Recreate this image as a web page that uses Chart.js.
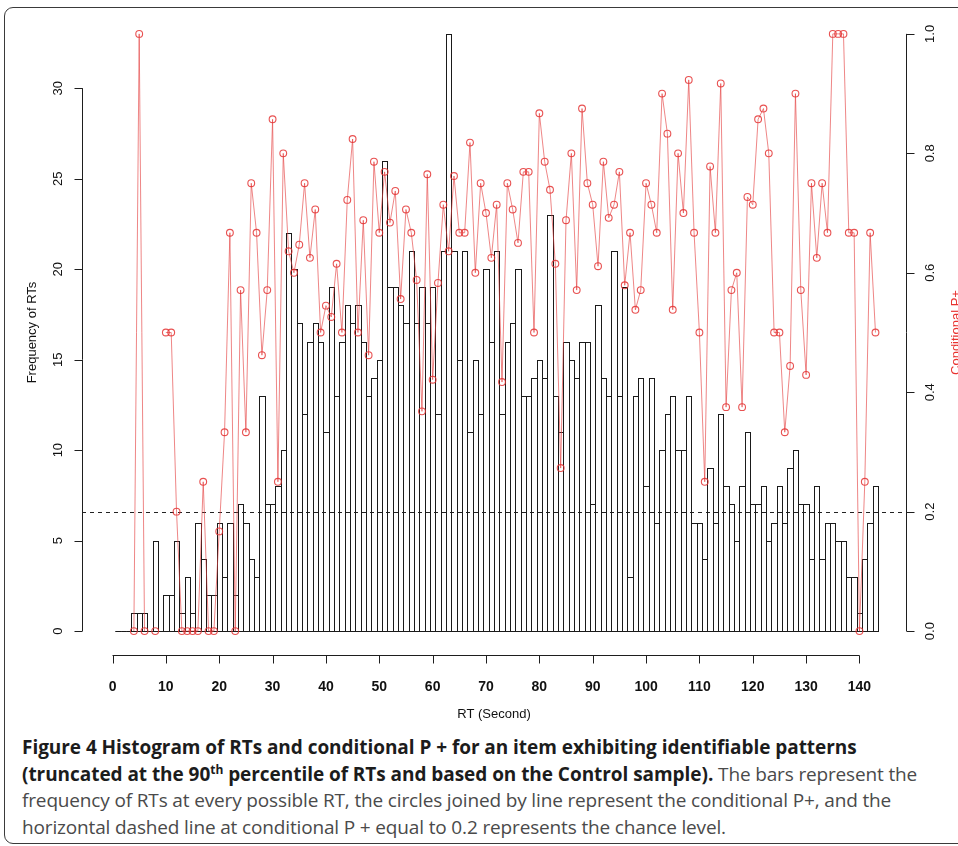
<!DOCTYPE html>
<html>
<head>
<meta charset="utf-8">
<script src="https://cdn.jsdelivr.net/npm/chart.js@4.4.1/dist/chart.umd.min.js"></script>
<style>
  html, body { margin: 0; padding: 0; background: #fff; }
  #frame {
    position: absolute; left: 4px; top: 7px; width: 1000px; height: 835px;
    border: 1.5px solid #3a3a3a; border-radius: 9px;
  }
  #wrap { position: absolute; left: 0; top: 0; width: 958px; height: 730px; }
  #caption {
    position: absolute; left: 22px; top: 734px;
    font-family: "Open Sans", sans-serif; font-size: 19px; line-height: 26.5px;
    color: #4a4a4a; white-space: nowrap; letter-spacing: -0.15px;
  }
  #caption b { color: #1c1c1c; font-weight: 700; letter-spacing: -0.05px; }
  #caption sup { font-size: 12px; line-height: 0; }
</style>
</head>
<body>
<div id="frame"></div>
<div id="wrap"><canvas id="chart" width="958" height="730"></canvas></div>
<div id="caption">
  <b>Figure 4 Histogram of RTs and conditional P + for an item exhibiting identifiable patterns</b><br>
  <b>(truncated at the 90<sup>th</sup> percentile of RTs and based on the Control sample).</b> The bars represent the<br>
  frequency of RTs at every possible RT, the circles joined by line represent the conditional P+, and the<br>
  horizontal dashed line at conditional P + equal to 0.2 represents the chance level.
</div>
<script>
// frequency of RTs, one value per second (RT = 1 .. 143)
const frequency = [
  0, 0, 0, 1, 1, 1, 0, 5, 0, 2,
  2, 5, 1, 3, 1, 6, 4, 2, 2, 6,
  3, 6, 2, 7, 6, 4, 3, 13, 7, 7,
  8, 10, 22, 20, 17, 12, 16, 17, 16, 11,
  19, 13, 16, 18, 17, 18, 16, 13, 14, 15,
  26, 19, 19, 18, 17, 21, 17, 19, 17, 19,
  12, 21, 33, 21, 15, 21, 11, 15, 12, 20,
  16, 21, 12, 16, 17, 20, 13, 13, 14, 15,
  14, 23, 13, 11, 16, 15, 14, 16, 16, 7,
  18, 14, 13, 21, 13, 19, 3, 13, 14, 8,
  14, 6, 10, 12, 13, 10, 10, 13, 6, 6,
  4, 9, 6, 12, 8, 7, 5, 8, 11, 7,
  7, 8, 5, 6, 8, 6, 9, 10, 7, 7,
  4, 8, 4, 6, 6, 5, 5, 3, 3, 1,
  4, 6, 8,
];

// conditional P+ at each RT (null where nobody answered at that RT)
const conditionalP = [
  null, null, null, 0, 1, 0, null, 0, null, 0.5,
  0.5, 0.2, 0, 0, 0, 0, 0.25, 0, 0, 0.167,
  0.333, 0.667, 0, 0.571, 0.333, 0.75, 0.667, 0.462, 0.571, 0.857,
  0.25, 0.8, 0.636, 0.6, 0.647, 0.75, 0.625, 0.706, 0.5, 0.545,
  0.526, 0.615, 0.5, 0.722, 0.824, 0.5, 0.688, 0.462, 0.786, 0.667,
  0.769, 0.684, 0.737, 0.556, 0.706, 0.667, 0.588, 0.368, 0.765, 0.421,
  0.583, 0.714, 0.636, 0.762, 0.667, 0.667, 0.818, 0.6, 0.75, 0.7,
  0.625, 0.714, 0.417, 0.75, 0.706, 0.65, 0.769, 0.769, 0.5, 0.867,
  0.786, 0.739, 0.615, 0.273, 0.688, 0.8, 0.571, 0.875, 0.75, 0.714,
  0.611, 0.786, 0.692, 0.714, 0.769, 0.579, 0.667, 0.538, 0.571, 0.75,
  0.714, 0.667, 0.9, 0.833, 0.538, 0.8, 0.7, 0.923, 0.667, 0.5,
  0.25, 0.778, 0.667, 0.917, 0.375, 0.571, 0.6, 0.375, 0.727, 0.714,
  0.857, 0.875, 0.8, 0.5, 0.5, 0.333, 0.444, 0.9, 0.571, 0.429,
  0.75, 0.625, 0.75, 0.667, 1, 1, 1, 0.667, 0.667, 0,
  0.25, 0.667, 0.5,
];

const rtSeconds = frequency.map((_, index) => index + 1);

const xTicks = [0, 10, 20, 30, 40, 50, 60, 70, 80, 90, 100, 110, 120, 130, 140];
const freqTicks = [0, 5, 10, 15, 20, 25, 30];
const pTicks = [0, 0.2, 0.4, 0.6, 0.8, 1.0];
const pTickLabels = ["0.0", "0.2", "0.4", "0.6", "0.8", "1.0"];
const chanceLevel = 0.2;

const plainFont = '"Liberation Sans", Arial, sans-serif';
const narrowFont = '"Liberation Sans Narrow", "Liberation Sans", Arial, sans-serif';
const axisColor = "#1e1e1e";

function strokeSegment(ctx, x1, y1, x2, y2) {
  ctx.beginPath();
  ctx.moveTo(x1, y1);
  ctx.lineTo(x2, y2);
  ctx.stroke();
}

// R-like axes: line only between first and last tick, tick marks, rotated y labels
const rStylePlugin = {
  id: "rStyle",
  beforeDatasetsDraw(chart) {
    const { ctx, chartArea, scales } = chart;
    const y = Math.round(scales.y1.getPixelForValue(chanceLevel)) + 0.5;
    ctx.save();
    ctx.strokeStyle = "#222";
    ctx.lineWidth = 1;
    ctx.setLineDash([4, 4]);
    strokeSegment(ctx, chartArea.left, y, chartArea.right, y);
    ctx.restore();
  },
  afterDatasetDraw(chart, args) {
    if (args.index !== 0) return;
    const ctx = chart.ctx;
    ctx.save();
    ctx.setLineDash([]);
    ctx.strokeStyle = "#1a1a1a";
    ctx.lineWidth = 1;
    args.meta.data.forEach((bar) => {
      const { x, y, base, width } = bar.getProps(["x", "y", "base", "width"], true);
      const left = Math.round(x - width / 2);
      const right = Math.round(x + width / 2);
      const top = Math.round(y);
      const bottom = Math.round(base);
      ctx.strokeRect(left + 0.5, top + 0.5, right - left, bottom - top);
    });
    ctx.restore();
  },
  afterDraw(chart) {
    const { ctx, chartArea, scales } = chart;
    const tick = 8;
    ctx.save();
    ctx.setLineDash([]);
    ctx.strokeStyle = axisColor;
    ctx.lineWidth = 1;

    const xb = Math.round(chartArea.bottom) + 0.5;
    strokeSegment(ctx, scales.x.getPixelForValue(xTicks[0]), xb,
      scales.x.getPixelForValue(xTicks[xTicks.length - 1]), xb);
    xTicks.forEach((value) => {
      const px = Math.round(scales.x.getPixelForValue(value)) + 0.5;
      strokeSegment(ctx, px, xb, px, xb + tick);
    });

    const xl = Math.round(chartArea.left) + 0.5;
    strokeSegment(ctx, xl, scales.y.getPixelForValue(freqTicks[0]),
      xl, scales.y.getPixelForValue(freqTicks[freqTicks.length - 1]));
    freqTicks.forEach((value) => {
      const py = Math.round(scales.y.getPixelForValue(value)) + 0.5;
      strokeSegment(ctx, xl - tick, py, xl, py);
    });

    const xr = Math.round(chartArea.right) + 0.5;
    strokeSegment(ctx, xr, scales.y1.getPixelForValue(pTicks[0]),
      xr, scales.y1.getPixelForValue(pTicks[pTicks.length - 1]));
    pTicks.forEach((value) => {
      const py = Math.round(scales.y1.getPixelForValue(value)) + 0.5;
      strokeSegment(ctx, xr, py, xr + tick, py);
    });

    ctx.fillStyle = "#111";
    ctx.font = "13px " + plainFont;
    ctx.textAlign = "center";
    ctx.textBaseline = "middle";
    freqTicks.forEach((value) => {
      ctx.save();
      ctx.translate(chartArea.left - 24, scales.y.getPixelForValue(value));
      ctx.rotate(-Math.PI / 2);
      ctx.fillText(String(value), 0, 0);
      ctx.restore();
    });
    pTicks.forEach((value, index) => {
      ctx.save();
      ctx.translate(chartArea.right + 24, scales.y1.getPixelForValue(value));
      ctx.rotate(-Math.PI / 2);
      ctx.fillText(pTickLabels[index], 0, 0);
      ctx.restore();
    });

    ctx.save();
    ctx.fillStyle = "#e8322f";
    ctx.translate(chartArea.right + 50, (chartArea.top + chartArea.bottom) / 2);
    ctx.rotate(-Math.PI / 2);
    ctx.fillText("Conditional P+", 0, 0);
    ctx.restore();
    ctx.restore();
  },
};

const hiddenGrid = { display: false, drawOnChartArea: false, drawTicks: true, tickLength: 8, offset: false };

new Chart(document.getElementById("chart"), {
  type: "bar",
  data: {
    datasets: [
      {
        type: "bar",
        label: "Frequency of RTs",
        data: rtSeconds.map((rt, i) => ({ x: rt, y: frequency[i] })),
        xAxisID: "x",
        yAxisID: "y",
        backgroundColor: "rgba(0,0,0,0)",
        borderWidth: 0,
        barPercentage: 1,
        categoryPercentage: 1,
        order: 2,
      },
      {
        type: "line",
        label: "Conditional P+",
        data: rtSeconds.map((rt, i) => ({ x: rt, y: conditionalP[i] })),
        xAxisID: "x",
        yAxisID: "y1",
        borderColor: "rgba(228,60,60,0.62)",
        borderWidth: 1,
        pointRadius: 3.4,
        pointBorderWidth: 1.1,
        pointBorderColor: "rgba(228,50,50,0.85)",
        pointBackgroundColor: "rgba(0,0,0,0)",
        spanGaps: false,
        tension: 0,
        order: 1,
      },
    ],
  },
  options: {
    responsive: false,
    animation: false,
    events: [],
    layout: { padding: { top: 10, left: 0, right: 0, bottom: 0 } },
    plugins: {
      legend: { display: false },
      tooltip: { enabled: false },
    },
    scales: {
      x: {
        type: "linear",
        position: "bottom",
        min: -5.72,
        max: 148.72,
        offset: false,
        afterBuildTicks: (scale) => {
          scale.ticks = xTicks.map((value) => ({ value }));
        },
        afterFit: (scale) => {
          scale.height = 75;
        },
        grid: hiddenGrid,
        border: { display: false },
        ticks: {
          autoSkip: false,
          maxRotation: 0,
          padding: 16,
          color: "#111",
          font: { family: narrowFont, size: 14, weight: "bold" },
        },
        title: {
          display: true,
          text: "RT (Second)",
          color: "#111",
          font: { family: narrowFont, size: 13 },
          padding: { top: 0, bottom: 8 },
        },
      },
      y: {
        type: "linear",
        position: "left",
        min: -1.32,
        max: 34.32,
        afterBuildTicks: (scale) => {
          scale.ticks = freqTicks.map((value) => ({ value }));
        },
        afterFit: (scale) => {
          scale.width = 82;
        },
        grid: hiddenGrid,
        border: { display: false },
        ticks: { display: false },
        title: {
          display: true,
          text: "Frequency of RTs",
          color: "#111",
          font: { family: plainFont, size: 13 },
          padding: { top: 25, bottom: 0 },
        },
      },
      y1: {
        type: "linear",
        position: "right",
        min: -0.04,
        max: 1.04,
        afterBuildTicks: (scale) => {
          scale.ticks = pTicks.map((value) => ({ value }));
        },
        afterFit: (scale) => {
          scale.width = 52;
        },
        grid: hiddenGrid,
        border: { display: false },
        ticks: { display: false },
      },
    },
  },
  plugins: [rStylePlugin],
});
</script>
</body>
</html>
